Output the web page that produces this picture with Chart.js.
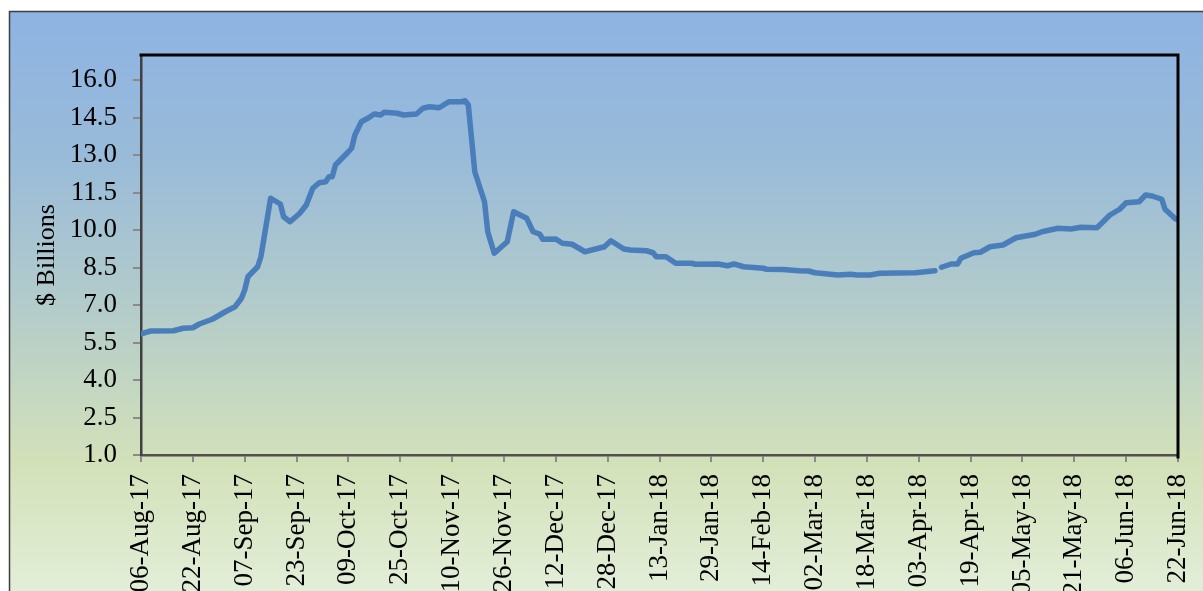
<!DOCTYPE html>
<html>
<head>
<meta charset="utf-8">
<script src="https://cdn.jsdelivr.net/npm/chart.js@4.4.0/dist/chart.umd.min.js"></script>
<style>
  html, body { margin: 0; padding: 0; background: #ffffff; }
  #wrap { width: 1203px; height: 591px; position: relative; }
</style>
</head>
<body>
<div id="wrap"><canvas id="c" width="1203" height="591"></canvas></div>
<script>
// ---- data (day offsets from 06-Aug-17, values in $ billions) ----
const days = [0, 3, 10, 13, 16, 18, 22, 26, 29, 31, 32, 33, 36, 37, 40, 43, 44, 46, 49, 51,
  53, 55, 57, 58, 59, 60, 64, 65, 66, 68, 70, 72, 74, 75, 79, 81, 85, 87, 89, 92,
  95, 99, 100, 101, 103, 106, 107, 109, 113, 115, 119, 121, 123, 124, 128, 130, 133, 137, 143, 145,
  149, 151, 156, 158, 159, 162, 165, 170, 171, 178, 181, 183, 186, 192, 193, 198, 203, 206, 208, 215,
  219, 221, 225, 228, 239, 245, 246, 247, 250, 252, 253, 257, 259, 262, 266, 270, 276, 278, 283, 287,
  290, 295, 299, 302, 304, 308, 310, 312, 315, 316, 319, 320];
const values = [5.85, 5.96, 5.97, 6.07, 6.09, 6.24, 6.43, 6.73, 6.93, 7.27, 7.60, 8.13, 8.53, 8.93, 11.27, 11.04, 10.53, 10.33, 10.67, 11.00,
  11.67, 11.89, 11.93, 12.13, 12.13, 12.60, 13.13, 13.27, 13.80, 14.33, 14.47, 14.64, 14.60, 14.71, 14.67, 14.60, 14.64, 14.87, 14.93, 14.89,
  15.13, 15.13, 15.17, 15.00, 12.33, 11.13, 9.93, 9.07, 9.53, 10.73, 10.47, 9.93, 9.84, 9.63, 9.64, 9.47, 9.43, 9.13, 9.33, 9.57,
  9.24, 9.20, 9.17, 9.09, 8.93, 8.93, 8.67, 8.67, 8.63, 8.64, 8.57, 8.64, 8.53, 8.47, 8.43, 8.42, 8.37, 8.36, 8.29, 8.20,
  8.23, 8.20, 8.20, 8.27, 8.29, 8.37, null, 8.51, 8.64, 8.64, 8.87, 9.09, 9.11, 9.33, 9.40, 9.69, 9.83, 9.93, 10.07, 10.04,
  10.11, 10.09, 10.60, 10.83, 11.09, 11.13, 11.40, 11.36, 11.23, 10.83, 10.47, 10.40];
const xTickLabels = ["06-Aug-17", "22-Aug-17", "07-Sep-17", "23-Sep-17", "09-Oct-17", "25-Oct-17", "10-Nov-17",
  "26-Nov-17", "12-Dec-17", "28-Dec-17", "13-Jan-18", "29-Jan-18", "14-Feb-18", "02-Mar-18", "18-Mar-18",
  "03-Apr-18", "19-Apr-18", "05-May-18", "21-May-18", "06-Jun-18", "22-Jun-18"];
const xTickStep = 16;
const yTicks = [1.0, 2.5, 4.0, 5.5, 7.0, 8.5, 10.0, 11.5, 13.0, 14.5, 16.0];
const yTitle = "$ Billions";

const points = days.map((d, i) => ({ x: d, y: values[i] }));

const bgPlugin = {
  id: 'bg',
  beforeDraw(chart) {
    const ctx = chart.ctx;
    const W = chart.width, H = chart.height;
    ctx.save();
    ctx.fillStyle = '#ffffff';
    ctx.fillRect(0, 0, W, H);
    const g = ctx.createLinearGradient(0, 11, 0, H);
    g.addColorStop(0, '#8db3e2');
    g.addColorStop(0.25, '#99bbd9');
    g.addColorStop(0.5, '#b2cbcb');
    g.addColorStop(0.78, '#d3e1b9');
    g.addColorStop(1, '#e2eed8');
    ctx.fillStyle = g;
    ctx.fillRect(9, 11, W, H);
    ctx.strokeStyle = '#3f3f3f';
    ctx.lineWidth = 1.5;
    ctx.strokeRect(9.5, 11.5, W + 20, H + 20);
    ctx.restore();
  },
  afterDraw(chart) {
    const { ctx, chartArea: a } = chart;
    ctx.save();
    ctx.strokeStyle = '#000000';
    ctx.lineWidth = 3;
    ctx.lineCap = 'square';
    ctx.beginPath();
    ctx.moveTo(a.left, a.top);
    ctx.lineTo(a.right, a.top);
    ctx.lineTo(a.right, a.bottom + 2);
    ctx.stroke();
    ctx.restore();
  }
};

const serif = "'Liberation Serif', 'Times New Roman', serif";

new Chart(document.getElementById('c'), {
  type: 'line',
  data: {
    datasets: [{
      data: points,
      borderColor: '#4a7ebb',
      borderWidth: 5.5,
      pointRadius: 0,
      tension: 0,
      spanGaps: false,
      borderCapStyle: 'round',
      borderJoinStyle: 'round',
      fill: false
    }]
  },
  options: {
    responsive: false,
    animation: false,
    layout: { padding: { top: 55, right: 25, bottom: 0, left: 0 } },
    plugins: { legend: { display: false }, tooltip: { enabled: false } },
    scales: {
      x: {
        type: 'linear',
        min: 0,
        max: 320,
        afterBuildTicks(axis) {
          axis.ticks = xTickLabels.map((_, i) => ({ value: i * xTickStep }));
        },
        afterFit(axis) {
          axis.height = 136;
          axis.paddingLeft = 0;
          axis.paddingRight = 0;
        },
        ticks: {
          autoSkip: false,
          maxRotation: 90,
          minRotation: 90,
          padding: 12,
          color: '#000000',
          font: { family: serif, size: 27 },
          callback: (v) => xTickLabels[Math.round(v / xTickStep)]
        },
        grid: { drawOnChartArea: false, drawTicks: true, tickLength: 7, color: '#8a8a8a', lineWidth: 2 },
        border: { display: true, color: '#505050', width: 2.5 }
      },
      y: {
        type: 'linear',
        min: 1,
        max: 17,
        afterBuildTicks(axis) {
          axis.ticks = yTicks.map(v => ({ value: v }));
        },
        afterFit(axis) {
          axis.width = 141;
          axis.paddingTop = 0;
          axis.paddingBottom = 0;
        },
        ticks: {
          padding: 16,
          color: '#000000',
          font: { family: serif, size: 27 },
          callback: (v) => Number(v).toFixed(1)
        },
        grid: { drawOnChartArea: false, drawTicks: true, tickLength: 8, color: '#8a8a8a', lineWidth: 2 },
        border: { display: true, color: '#404040', width: 2.5 },
        title: {
          display: true,
          text: yTitle,
          color: '#000000',
          font: { family: serif, size: 26 },
          padding: { top: 32, bottom: 0 }
        }
      }
    }
  },
  plugins: [bgPlugin]
});
</script>
</body>
</html>
